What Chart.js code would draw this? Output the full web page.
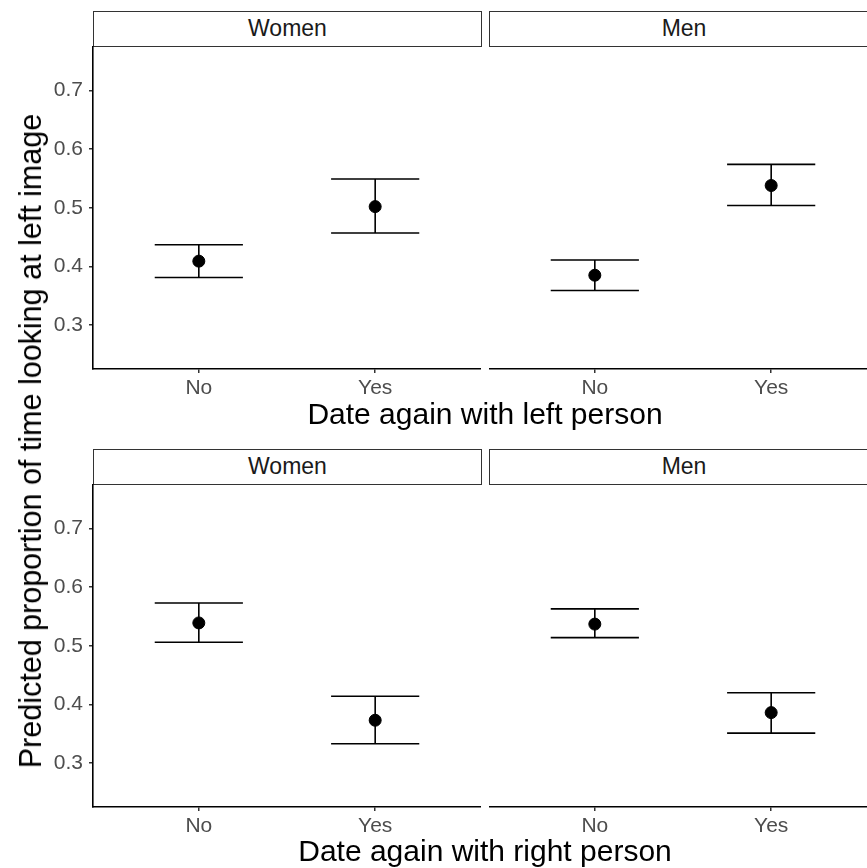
<!DOCTYPE html>
<html>
<head>
<meta charset="utf-8">
<script src="https://cdn.jsdelivr.net/npm/chart.js@4.4.0/dist/chart.umd.min.js"></script>
<style>
  html, body { margin: 0; padding: 0; background: #fff; }
  body { width: 867px; height: 868px; overflow: hidden; position: relative; font-family: "Liberation Sans", Arial, sans-serif; }
  .panel { position: absolute; }
  .strip { position: absolute; box-sizing: border-box; border: 1.5px solid #333; background: #fff;
           font-size: 23px; color: #1a1a1a; text-align: center; line-height: 33px; }
  .xtitle { position: absolute; font-size: 30px; line-height: 30px; color: #000; text-align: center; width: 784px; left: 93px; }
  .ytitle { position: absolute; font-size: 30.5px; line-height: 30px; color: #000; white-space: nowrap;
            left: 30px; top: 441px; transform: translate(-50%, -50%) rotate(-90deg); }
</style>
</head>
<body>

<div class="strip" style="left:93px;top:11px;width:389px;height:36px;">Women</div>
<div class="strip" style="left:489px;top:11px;width:390px;height:36px;">Men</div>
<div class="strip" style="left:93px;top:449px;width:389px;height:36px;">Women</div>
<div class="strip" style="left:489px;top:449px;width:390px;height:36px;">Men</div>

<div class="panel" style="left:0px;top:46px;width:481px;height:368px;"><canvas id="c1"></canvas></div>
<div class="panel" style="left:489px;top:46px;width:388px;height:368px;"><canvas id="c2"></canvas></div>
<div class="panel" style="left:0px;top:484px;width:481px;height:368px;"><canvas id="c3"></canvas></div>
<div class="panel" style="left:489px;top:484px;width:388px;height:368px;"><canvas id="c4"></canvas></div>

<div class="xtitle" style="top:399px;">Date again with left person</div>
<div class="xtitle" style="top:836px;">Date again with right person</div>
<div class="ytitle">Predicted proportion of time looking at left image</div>

<script>
var categories = ['No', 'Yes'];
var yTicks = [0.3, 0.4, 0.5, 0.6, 0.7];

// Date again with left person
var leftWomenEst  = [0.409, 0.502];
var leftWomenLow  = [0.381, 0.457];
var leftWomenHigh = [0.437, 0.549];
var leftMenEst    = [0.385, 0.538];
var leftMenLow    = [0.359, 0.504];
var leftMenHigh   = [0.411, 0.574];

// Date again with right person
var rightWomenEst  = [0.539, 0.373];
var rightWomenLow  = [0.506, 0.333];
var rightWomenHigh = [0.573, 0.414];
var rightMenEst    = [0.537, 0.386];
var rightMenLow    = [0.514, 0.351];
var rightMenHigh   = [0.563, 0.420];

var capHalf = 0.25;

function errorBarPoints(low, high) {
  var pts = [];
  for (var i = 0; i < categories.length; i++) {
    var x = i + 1;
    pts.push({x: x - capHalf, y: high[i]}, {x: x + capHalf, y: high[i]}, {x: x, y: null});
    pts.push({x: x, y: high[i]}, {x: x, y: low[i]}, {x: x, y: null});
    pts.push({x: x - capHalf, y: low[i]}, {x: x + capHalf, y: low[i]}, {x: x, y: null});
  }
  return pts;
}

function estPoints(est) {
  return est.map(function(v, i) { return {x: i + 1, y: v}; });
}

function makePanel(id, est, low, high, showY) {
  new Chart(document.getElementById(id).getContext('2d'), {
    type: 'scatter',
    data: {
      datasets: [
        {
          data: errorBarPoints(low, high),
          showLine: true,
          spanGaps: false,
          borderColor: '#000',
          borderWidth: 1.6,
          pointRadius: 0,
          pointHoverRadius: 0
        },
        {
          data: estPoints(est),
          backgroundColor: '#000',
          borderColor: '#000',
          pointRadius: 6,
          pointHoverRadius: 6
        }
      ]
    },
    options: {
      responsive: true,
      maintainAspectRatio: false,
      animation: false,
      layout: { padding: 0, autoPadding: false },
      plugins: { legend: { display: false }, tooltip: { enabled: false } },
      scales: {
        x: {
          type: 'linear',
          min: 0.4,
          max: 2.6,
          afterBuildTicks: function(axis) {
            axis.ticks = categories.map(function(c, i) { return {value: i + 1}; });
          },
          afterFit: function(scale) {
            scale.height = 45;
            scale.paddingLeft = 0;
            scale.paddingRight = 0;
          },
          ticks: {
            autoSkip: false,
            maxRotation: 0,
            padding: 3,
            color: '#4d4d4d',
            font: { family: 'Liberation Sans', size: 21 },
            callback: function(v) { return categories[v - 1]; }
          },
          grid: { drawOnChartArea: false, drawTicks: true, tickLength: 4, color: '#333', lineWidth: 1.5 },
          border: { display: true, color: '#000', width: 1.6 }
        },
        y: {
          display: showY,
          min: 0.225,
          max: 0.776,
          afterBuildTicks: function(axis) {
            axis.ticks = yTicks.map(function(v) { return {value: v}; });
          },
          afterFit: function(scale) {
            scale.width = showY ? 93 : 0;
            scale.paddingTop = 0;
            scale.paddingBottom = 0;
          },
          ticks: {
            padding: 6,
            color: '#4d4d4d',
            font: { family: 'Liberation Sans', size: 21 },
            callback: function(v) { return v.toFixed(1); }
          },
          grid: { drawOnChartArea: false, drawTicks: true, tickLength: 4, color: '#333', lineWidth: 1.5 },
          border: { display: true, color: '#000', width: 1.6 }
        }
      }
    }
  });
}

makePanel('c1', leftWomenEst, leftWomenLow, leftWomenHigh, true);
makePanel('c2', leftMenEst, leftMenLow, leftMenHigh, false);
makePanel('c3', rightWomenEst, rightWomenLow, rightWomenHigh, true);
makePanel('c4', rightMenEst, rightMenLow, rightMenHigh, false);
</script>
</body>
</html>
